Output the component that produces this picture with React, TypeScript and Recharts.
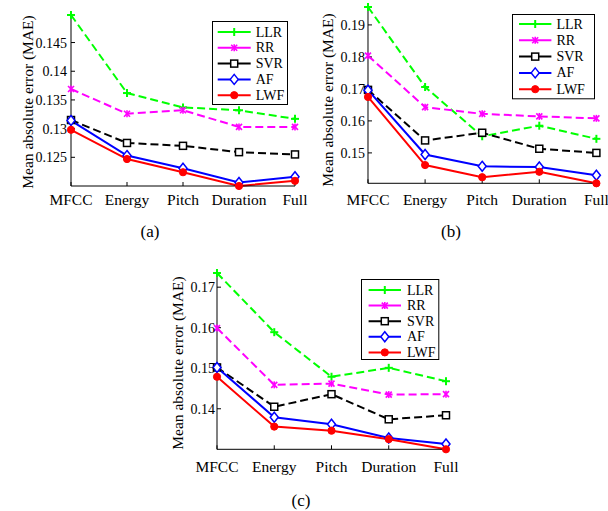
import { LineChart, Line, XAxis, YAxis, Legend } from 'recharts';

const FONT = '"Liberation Serif", "Times New Roman", serif';

const CATEGORIES = ['MFCC', 'Energy', 'Pitch', 'Duration', 'Full'];

// (a)
const LLR_A = [0.1498, 0.1362, 0.1337, 0.1332, 0.1317];
const RR_A = [0.1369, 0.1326, 0.1332, 0.1303, 0.1303];
const SVR_A = [0.1315, 0.1275, 0.127, 0.1259, 0.1255];
const AF_A = [0.1314, 0.1253, 0.1231, 0.1206, 0.1216];
const LWF_A = [0.1298, 0.1247, 0.1224, 0.12, 0.1209];
const TICKS_A = [0.125, 0.13, 0.135, 0.14, 0.145];

// (b)
const LLR_B = [0.1956, 0.1706, 0.1552, 0.1585, 0.1544];
const RR_B = [0.1804, 0.1643, 0.1622, 0.1614, 0.1608];
const SVR_B = [0.1697, 0.1539, 0.1563, 0.1513, 0.15];
const AF_B = [0.1696, 0.1495, 0.1458, 0.1456, 0.143];
const LWF_B = [0.1675, 0.1462, 0.1424, 0.1441, 0.1405];
const TICKS_B = [0.15, 0.16, 0.17, 0.18, 0.19];

// (c)
const LLR_C = [0.1735, 0.1589, 0.1479, 0.1501, 0.1468];
const RR_C = [0.1599, 0.1459, 0.1462, 0.1435, 0.1436];
const SVR_C = [0.1502, 0.1405, 0.1436, 0.1374, 0.1384];
const AF_C = [0.1502, 0.1379, 0.1362, 0.1328, 0.1313];
const LWF_C = [0.1479, 0.1356, 0.1346, 0.1325, 0.13];
const TICKS_C = [0.14, 0.15, 0.16, 0.17];

type MarkerKind = 'plus' | 'star' | 'square' | 'diamond' | 'circle';

const SERIES: { name: string; color: string; dash?: string; marker: MarkerKind }[] = [
  { name: 'LLR', color: '#00ff00', dash: '8 4', marker: 'plus' },
  { name: 'RR', color: '#ff00ff', dash: '8 4', marker: 'star' },
  { name: 'SVR', color: '#000000', dash: '8 4', marker: 'square' },
  { name: 'AF', color: '#0000ff', marker: 'diamond' },
  { name: 'LWF', color: '#ff0000', marker: 'circle' },
];

function Marker({ kind, cx, cy, color }: { kind: MarkerKind; cx: number; cy: number; color: string }) {
  if (cx == null || cy == null) return null;
  switch (kind) {
    case 'plus':
      return (
        <g stroke={color} strokeWidth={2}>
          <line x1={cx - 4} y1={cy} x2={cx + 4} y2={cy} />
          <line x1={cx} y1={cy - 4} x2={cx} y2={cy + 4} />
        </g>
      );
    case 'star':
      return (
        <g stroke={color} strokeWidth={1.6}>
          <line x1={cx - 3} y1={cy - 3} x2={cx + 3} y2={cy + 3} />
          <line x1={cx - 3} y1={cy + 3} x2={cx + 3} y2={cy - 3} />
          <line x1={cx} y1={cy - 3.5} x2={cx} y2={cy + 3.5} />
        </g>
      );
    case 'square':
      return <rect x={cx - 3.5} y={cy - 3.5} width={7} height={7} fill="#fff" stroke={color} strokeWidth={1.5} />;
    case 'diamond':
      return (
        <polygon
          points={`${cx},${cy - 5} ${cx + 4},${cy} ${cx},${cy + 5} ${cx - 4},${cy}`}
          fill="#fff"
          stroke={color}
          strokeWidth={1.5}
        />
      );
    default:
      return <circle cx={cx} cy={cy} r={3.6} fill={color} stroke={color} />;
  }
}

interface LegendSpec {
  left: number;
  top: number;
  width: number;
  height: number;
  y0: number;
  step: number;
  x0: number;
  x1: number;
  textX: number;
}

function LegendBox({ spec }: { spec: LegendSpec }) {
  return (
    <svg width={spec.width} height={spec.height} style={{ display: 'block', overflow: 'visible' }}>
      <rect x={0.5} y={0.5} width={spec.width - 1} height={spec.height - 1} fill="#fff" stroke="#000" strokeWidth={1} />
      {SERIES.map((s, i) => {
        const y = spec.y0 + i * spec.step;
        const mx = (spec.x0 + spec.x1) / 2;
        return (
          <g key={s.name}>
            <line x1={spec.x0} y1={y} x2={spec.x1} y2={y} stroke={s.color} strokeWidth={2} />
            <Marker kind={s.marker} cx={mx} cy={y} color={s.color} />
            <text x={spec.textX} y={y} dominantBaseline="central" fontFamily={FONT} fontSize={14} fill="#000">
              {s.name}
            </text>
          </g>
        );
      })}
    </svg>
  );
}

interface PanelProps {
  values: number[][];
  ticks: number[];
  plot: { left: number; top: number; right: number; bottom: number };
  legend: LegendSpec;
  caption: string;
  captionPos: [number, number];
  labelPos: [number, number];
  xTickMargin: number;
  yTickMargin: number;
}

function Panel({ values, ticks, plot, legend, caption, captionPos, labelPos, xTickMargin, yTickMargin }: PanelProps) {
  const data = CATEGORIES.map((name, i) => {
    const row: Record<string, string | number> = { name };
    SERIES.forEach((s, k) => {
      row[s.name] = values[k][i];
    });
    return row;
  });
  const all = values.flat();
  const domain = [Math.min(...all), Math.max(...all)];
  const ML = 75;
  const MT = 20;
  const MR = 30;
  const boxLeft = plot.left - ML;
  const boxTop = plot.top - MT;
  const w = plot.right - plot.left + ML + MR;
  const h = plot.bottom - plot.top + MT + 30;
  const axisStyle = { stroke: '#000', strokeWidth: 1 };

  return (
    <>
      <div style={{ position: 'absolute', left: boxLeft, top: boxTop }}>
        <LineChart width={w} height={h} data={data} margin={{ top: MT, right: MR, bottom: 0, left: 0 }}>
          <XAxis
            dataKey="name"
            height={30}
            interval={0}
            axisLine={axisStyle}
            tickLine={axisStyle}
            tickSize={-4}
            tickMargin={xTickMargin}
            tick={{ fill: '#000', fontSize: 15.5, fontFamily: FONT }}
          />
          <XAxis
            xAxisId="top"
            dataKey="name"
            orientation="top"
            height={0}
            interval={0}
            axisLine={axisStyle}
            tickLine={axisStyle}
            tickSize={-4}
            tick={false}
          />
          <YAxis
            type="number"
            domain={domain}
            ticks={ticks}
            interval={0}
            width={ML}
            axisLine={axisStyle}
            tickLine={axisStyle}
            tickSize={-4}
            tickMargin={yTickMargin}
            tick={{ fill: '#000', fontSize: 14, fontFamily: FONT }}
          />
          <YAxis
            yAxisId="right"
            type="number"
            orientation="right"
            domain={domain}
            ticks={ticks}
            interval={0}
            width={0}
            axisLine={axisStyle}
            tickLine={axisStyle}
            tickSize={-4}
            tick={false}
          />
          <Line
            xAxisId="top"
            yAxisId="right"
            dataKey="LLR"
            stroke="none"
            dot={false}
            activeDot={false}
            legendType="none"
            isAnimationActive={false}
          />
          {SERIES.map((s) => (
            <Line
              key={s.name}
              dataKey={s.name}
              stroke={s.color}
              strokeWidth={2}
              strokeDasharray={s.dash}
              isAnimationActive={false}
              activeDot={false}
              dot={(p: any) => <Marker key={`${s.name}-${p.index}`} kind={s.marker} cx={p.cx} cy={p.cy} color={s.color} />}
            />
          ))}
          <Legend
            layout="vertical"
            align="center"
            verticalAlign="middle"
            wrapperStyle={{
              left: legend.left - boxLeft,
              top: legend.top - boxTop,
              width: legend.width,
              height: legend.height,
            }}
            content={() => <LegendBox spec={legend} />}
          />
        </LineChart>
      </div>
      <div
        style={{
          position: 'absolute',
          left: labelPos[0],
          top: labelPos[1],
          transform: 'translate(-50%, -50%) rotate(-90deg)',
          whiteSpace: 'nowrap',
          fontSize: 15.5,
          lineHeight: 1,
          fontFamily: FONT,
          color: '#000',
        }}
      >
        Mean absolute error (MAE)
      </div>
      <div
        style={{
          position: 'absolute',
          left: captionPos[0],
          top: captionPos[1],
          transform: 'translate(-50%, -50%)',
          whiteSpace: 'nowrap',
          fontSize: 17,
          lineHeight: 1,
          fontFamily: FONT,
          color: '#000',
        }}
      >
        {caption}
      </div>
    </>
  );
}

export default function App() {
  return (
    <div style={{ position: 'absolute', left: 0, top: 0, width: 608, height: 511, background: '#fff', fontFamily: FONT }}>
      <Panel
        values={[LLR_A, RR_A, SVR_A, AF_A, LWF_A]}
        ticks={TICKS_A}
        plot={{ left: 71, top: 15, right: 295, bottom: 186 }}
        legend={{ left: 212.3, top: 20.7, width: 76, height: 84, y0: 11, step: 15.8, x0: 5.7, x1: 38.7, textX: 43.7 }}
        caption="(a)"
        captionPos={[150, 231]}
        labelPos={[28, 101.7]}
        xTickMargin={12}
        yTickMargin={8}
      />
      <Panel
        values={[LLR_B, RR_B, SVR_B, AF_B, LWF_B]}
        ticks={TICKS_B}
        plot={{ left: 368.3, top: 7, right: 596.7, bottom: 183.3 }}
        legend={{ left: 512.3, top: 14, width: 83, height: 85.3, y0: 10, step: 16.3, x0: 7, x1: 39.4, textX: 44.4 }}
        caption="(b)"
        captionPos={[451, 231]}
        labelPos={[328, 100]}
        xTickMargin={14.7}
        yTickMargin={7}
      />
      <Panel
        values={[LLR_C, RR_C, SVR_C, AF_C, LWF_C]}
        ticks={TICKS_C}
        plot={{ left: 216.7, top: 272.7, right: 445.7, bottom: 449 }}
        legend={{ left: 360.7, top: 279, width: 78.3, height: 81, y0: 11, step: 15.6, x0: 7.6, x1: 40, textX: 46 }}
        caption="(c)"
        captionPos={[301, 500]}
        labelPos={[178, 362.5]}
        xTickMargin={15.7}
        yTickMargin={6}
      />
    </div>
  );
}
